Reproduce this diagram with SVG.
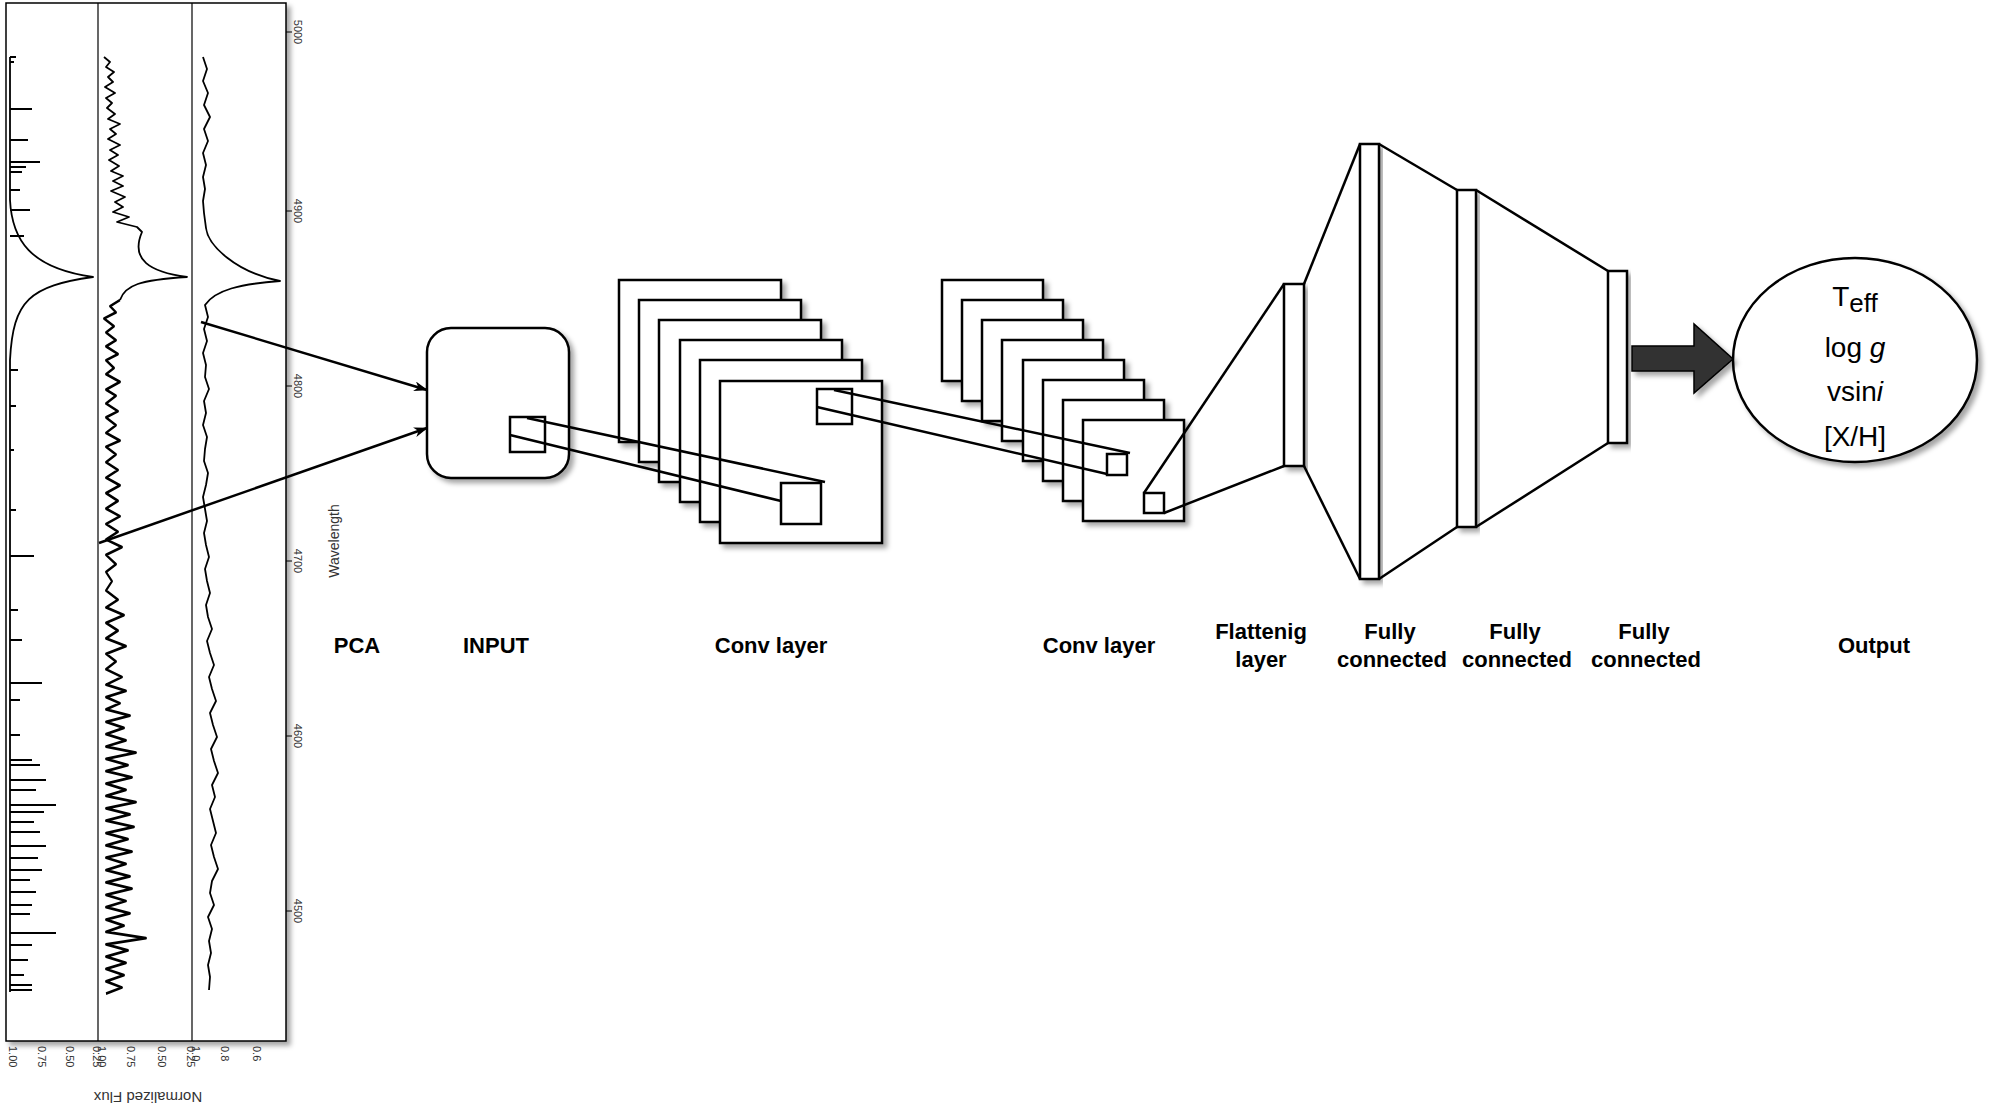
<svg xmlns="http://www.w3.org/2000/svg" width="1995" height="1116" viewBox="0 0 1995 1116">
<style>
.s{fill:#fff;stroke:#000;stroke-width:2.5}
.l{fill:none;stroke:#000;stroke-width:2.5}
.sp{fill:none;stroke:#000;stroke-width:1.8;stroke-linejoin:round}
.lab{font-family:"Liberation Sans",Arial,sans-serif;font-weight:bold;font-size:22px;text-anchor:middle;fill:#000}
.t{font-family:"Liberation Sans",Arial,sans-serif;font-size:11px;fill:#333}
.o{font-family:"Liberation Sans",Arial,sans-serif;font-size:28px;text-anchor:middle}
</style>
<defs>
<filter id="sh" x="-10%" y="-10%" width="130%" height="130%"><feDropShadow dx="4" dy="4" stdDeviation="2.5" flood-color="#000" flood-opacity="0.35"/></filter>
<marker id="ah" markerWidth="14" markerHeight="10" refX="13" refY="5" orient="auto" markerUnits="userSpaceOnUse"><path d="M0,0 L14,5 L0,10 L4,5 z" fill="#000"/></marker>
</defs>
<g id="spectra">
<rect x="6" y="3" width="280" height="1038" fill="#fff" stroke="#000" stroke-width="1.5" filter="url(#sh)"/>
<line x1="98" y1="3" x2="98" y2="1041" stroke="#000" stroke-width="1.2"/>
<line x1="192" y1="3" x2="192" y2="1041" stroke="#000" stroke-width="1.2"/>
<path class="sp" d="M10,57 L10,200 C12,240 30,268 93,277 C30,286 13,300 10,360 L10,992"/>
<path class="sp" d="M10,57h6M10,62h4M10,109h22M10,140h18M10,162h30M10,167h16M10,172h12M10,190h10M10,210h20M10,236h14M10,370h8M10,406h6M10,450h4M10,510h6M10,556h24M10,610h8M10,640h12M10,683h32M10,700h10M10,735h10M10,760h22M10,765h30M10,780h36M10,790h26M10,805h46M10,812h34M10,822h24M10,832h30M10,846h36M10,858h28M10,870h32M10,880h20M10,892h26M10,905h22M10,914h20M10,933h46M10,945h22M10,960h18M10,975h14M10,985h22M10,990h22"/>
<path class="sp" d="M104,57 l6,5 l-4,5 l8,5 l-6,5 l5,5 l-8,5 l10,6 l-9,5 l6,5 l-5,5 l8,6 l-7,5 l12,5 l-10,5 l6,5 l-8,5 l12,6 l-10,5 l8,5 l-9,5 l10,6 l-8,5 l12,5 l-10,5 l10,5 l-12,5 l14,6 l-10,5 l8,5 l-10,5 l16,5 l-12,5 l20,5 l5,5 C130,260 150,272 187,277 C140,280 125,285 120,300"/>
<path class="sp" transform="translate(0,300) scale(1,1.545) translate(0,-300)" d="M120,300 l-10,4 l6,4 l-12,4 l10,5 l-8,4 l10,5 l-10,4 l12,5 l-12,4 l8,5 l-8,4 l14,5 l-14,5 l10,4 l-10,5 l12,5 l-12,4 l10,5 l-10,5 l14,5 l-14,4 l10,5 l-10,5 l12,5 l-12,5 l14,5 l-14,5 l12,5 l-12,5 l14,5 l-14,5 l12,5 l-12,5 l16,5 l-16,5 l10,6 l-10,5 l6,6 l-6,6 l12,6 l-12,5 l18,5 l-18,5 l12,5 l-12,5 l20,5 l-20,5 l10,5 l-10,5 l16,5 l-16,5 l20,4 l-20,4 l14,4 l-14,4 l24,4 l-24,4 l18,4 l-18,4 l20,4 l-20,4 l30,4 l-30,4 l22,4 l-22,4 l26,4 l-26,4 l20,4 l-20,4 l30,4 l-30,4 l24,4 l-24,4 l28,4 l-28,4 l22,4 l-22,4 l26,4 l-26,4 l20,4 l-20,4 l24,4 l-24,4 l26,4 l-26,4 l20,4 l-20,4 l24,4 l-24,4 l18,4 l-18,4 l40,4 l-40,4 l22,4 l-22,4 l20,4 l-20,4 l18,4 l-18,4 l16,4 l-16,4"/>
<path class="sp" d="M203,57 L207,69 L203,81 L208,93 L204,105 L210,117 L204,129 L208,141 L203,153 L206,165 L203,177 L205,189 L203,201 L204,213 L206,228 C208,245 235,272 280,281 C240,284 215,290 205,305 L208,317 L204,329 L207,341 L203,353 L206,365 L205,377 L209,389 L204,401 L206,413 L203,425 L207,437 L205,449 L204,461 L208,473 L206,485 L203,497 L205,509 L207,521 L204,533 L206,545 L209,557 L205,569 L207,581 L210,593 L206,605 L208,617 L212,629 L207,641 L210,653 L214,665 L209,677 L212,689 L216,701 L210,713 L213,725 L217,737 L211,749 L214,761 L218,773 L212,785 L215,797 L210,809 L213,821 L216,833 L211,845 L214,857 L218,869 L212,881 L210,893 L214,905 L208,917 L212,929 L209,941 L211,953 L208,965 L210,977 L209,990"/>
<path d="M286,32h6M286,211h6M286,386h6M286,561h6M286,736h6M286,911h6" stroke="#000" stroke-width="1.2"/>
<g class="t">
<text transform="translate(294,32) rotate(90)" text-anchor="middle">5000</text>
<text transform="translate(294,211) rotate(90)" text-anchor="middle">4900</text>
<text transform="translate(294,386) rotate(90)" text-anchor="middle">4800</text>
<text transform="translate(294,561) rotate(90)" text-anchor="middle">4700</text>
<text transform="translate(294,736) rotate(90)" text-anchor="middle">4600</text>
<text transform="translate(294,911) rotate(90)" text-anchor="middle">4500</text>
<text transform="translate(9,1046) rotate(90)">1.00</text>
<text transform="translate(38,1046) rotate(90)">0.75</text>
<text transform="translate(66,1046) rotate(90)">0.50</text>
<text transform="translate(93,1046) rotate(90)">0.25</text>
<text transform="translate(98,1046) rotate(90)">1.00</text>
<text transform="translate(127,1046) rotate(90)">0.75</text>
<text transform="translate(158,1046) rotate(90)">0.50</text>
<text transform="translate(187,1046) rotate(90)">0.25</text>
<text transform="translate(192,1046) rotate(90)">1.0</text>
<text transform="translate(221,1046) rotate(90)">0.8</text>
<text transform="translate(253,1046) rotate(90)">0.6</text>
</g>
<text transform="translate(148,1092) rotate(180)" font-family="Liberation Sans,Arial,sans-serif" font-size="15" text-anchor="middle" fill="#333">Normalized Flux</text>
<text transform="translate(339,541) rotate(-90)" font-family="Liberation Sans,Arial,sans-serif" font-size="14" text-anchor="middle" fill="#333">Wavelength</text>
</g>
<g id="input"><rect class="s" x="427" y="328" width="142" height="150" rx="24" filter="url(#sh)"/><rect class="s" x="510" y="417" width="35" height="35"/></g>
<g id="conv1" filter="url(#sh)">
<rect class="s" x="619" y="280" width="162" height="162"/>
<rect class="s" x="639" y="300" width="162" height="162"/>
<rect class="s" x="659" y="320" width="162" height="162"/>
<rect class="s" x="680" y="340" width="162" height="162"/>
<rect class="s" x="700" y="360" width="162" height="162"/>
<rect class="s" x="720" y="381" width="162" height="162"/>
<rect class="s" x="817" y="389" width="35" height="35"/>
<rect class="s" x="781" y="483" width="40" height="41"/>
</g>
<g id="conv2" filter="url(#sh)">
<rect class="s" x="942" y="280" width="101" height="101"/>
<rect class="s" x="962" y="300" width="101" height="101"/>
<rect class="s" x="982" y="320" width="101" height="101"/>
<rect class="s" x="1002" y="340" width="101" height="101"/>
<rect class="s" x="1023" y="360" width="101" height="101"/>
<rect class="s" x="1043" y="380" width="101" height="101"/>
<rect class="s" x="1063" y="400" width="101" height="101"/>
<rect class="s" x="1083" y="420" width="101" height="101"/>
<rect class="s" x="1107" y="454" width="20" height="21"/>
<rect class="s" x="1144" y="493" width="20" height="20"/>
</g>
<g id="flatten"><rect class="s" x="1284" y="284" width="20" height="182" filter="url(#sh)"/></g>
<g id="fc1"><rect class="s" x="1360" y="144" width="19" height="435" filter="url(#sh)"/></g>
<g id="fc2"><rect class="s" x="1457" y="190" width="19" height="337" filter="url(#sh)"/></g>
<g id="fc3"><rect class="s" x="1608" y="271" width="19" height="172" filter="url(#sh)"/></g>
<g id="output"><ellipse class="s" cx="1855" cy="360" rx="122" ry="102" filter="url(#sh)"/>
<text class="o" x="1855" y="306" font-size="34">T<tspan font-size="26" dy="6">eff</tspan></text>
<text class="o" x="1855" y="357">log <tspan font-style="italic">g</tspan></text>
<text class="o" x="1855" y="401">vsin<tspan font-style="italic">i</tspan></text>
<text class="o" x="1855" y="446">[X/H]</text>
</g>
<g id="connectors">
<line class="l" x1="201" y1="322" x2="427" y2="390" marker-end="url(#ah)"/>
<line class="l" x1="99" y1="543" x2="427" y2="428" marker-end="url(#ah)"/>
<line class="l" x1="527" y1="418" x2="825" y2="482"/>
<line class="l" x1="510" y1="435" x2="781" y2="501"/>
<line class="l" x1="834" y1="390" x2="1130" y2="453"/>
<line class="l" x1="817" y1="407" x2="1107" y2="474"/>
<line class="l" x1="1144" y1="493" x2="1284" y2="284"/>
<line class="l" x1="1164" y1="513" x2="1284" y2="466"/>
<line class="l" x1="1304" y1="284" x2="1360" y2="144"/>
<line class="l" x1="1304" y1="466" x2="1360" y2="579"/>
<line class="l" x1="1379" y1="144" x2="1457" y2="190"/>
<line class="l" x1="1379" y1="579" x2="1457" y2="527"/>
<line class="l" x1="1476" y1="190" x2="1608" y2="271"/>
<line class="l" x1="1476" y1="527" x2="1608" y2="443"/>
<path d="M1632,346 H1694 V324 L1733,359 L1694,393 V371 H1632 Z" fill="#333" stroke="#000" stroke-width="1.5" filter="url(#sh)"/>
</g>
<g id="labels" class="lab">
<text x="357" y="653">PCA</text>
<text x="496" y="653">INPUT</text>
<text x="771" y="653">Conv layer</text>
<text x="1099" y="653">Conv layer</text>
<text x="1261" y="639">Flattenig</text><text x="1261" y="667">layer</text>
<text x="1390" y="639">Fully</text><text x="1392" y="667">connected</text>
<text x="1515" y="639">Fully</text><text x="1517" y="667">connected</text>
<text x="1644" y="639">Fully</text><text x="1646" y="667">connected</text>
<text x="1874" y="653">Output</text>
</g>
</svg>
